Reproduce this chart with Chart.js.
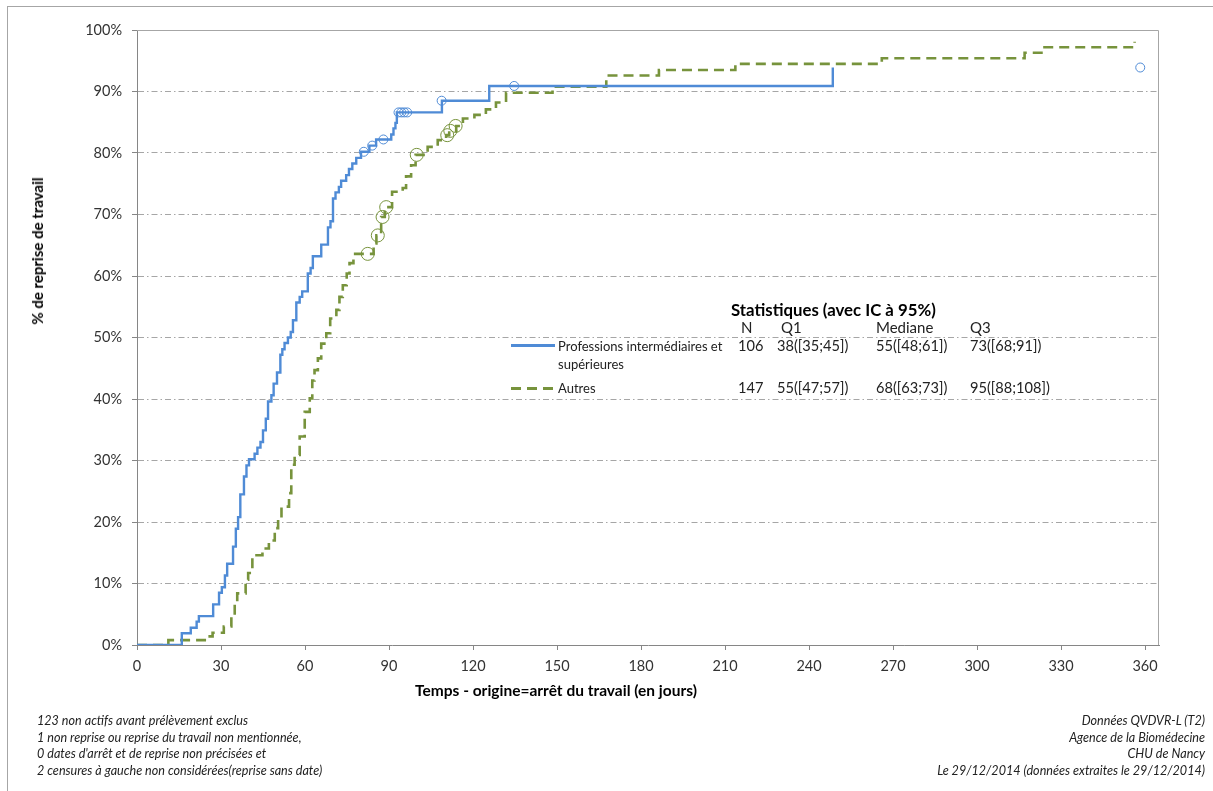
<!DOCTYPE html>
<html lang="fr">
<head>
<meta charset="utf-8">
<title>Reprise du travail</title>
<script src="https://cdn.jsdelivr.net/npm/chart.js@4.4.1/dist/chart.umd.min.js"></script>
<style>
  body { margin: 0; background: #fff; font-family: Lato, "Open Sans", sans-serif; color: #222; }
  #wrap { position: relative; width: 1213px; height: 791px; overflow: hidden; }
  #frame { position: absolute; left: 7px; top: 6px; width: 1300px; height: 900px; border: 1px solid #a6a6a6; }
  canvas { position: absolute; left: 0; top: 0; }
  .t { position: absolute; white-space: nowrap; line-height: 18px; height: 18px; }
  .b { font-weight: bold; }
  .foot { position: absolute; font-style: italic; font-size: 12.6px; line-height: 16.7px; color: #222; white-space: nowrap; }
</style>
</head>
<body>
<div id="wrap">
  <div id="frame"></div>
  <canvas id="km" width="1213" height="791"></canvas>
  <div id="overlay"></div>
</div>
<script>
// Axis ticks
const xTicks = [0, 30, 60, 90, 120, 150, 180, 210, 240, 270, 300, 330, 360];
const yTicks = [0, 10, 20, 30, 40, 50, 60, 70, 80, 90, 100];

// Kaplan-Meier steps: [jours, % de reprise]
const blueSteps = [
  [0, 0], [16, 1.9], [19.2, 2.8], [21.3, 3.8], [22.1, 4.7], [27.2, 6.6], [29.3, 8.5],
  [30.3, 9.4], [31.4, 11.3], [32.2, 13.2], [34.3, 16.0], [35.3, 18.9], [36.1, 20.8],
  [36.9, 24.5], [38.2, 27.4], [39.1, 29.2], [40, 30.2], [42, 31.1], [43, 32.1],
  [44.1, 33.0], [45, 34.9], [46, 36.8], [46.8, 39.6], [48, 40.6], [48.8, 42.5],
  [50, 44.3], [51.2, 47.2], [51.9, 48.1], [52.7, 49.1], [53.9, 50.0], [54.9, 50.9],
  [55.7, 52.8], [56.9, 55.7], [58.1, 56.6], [59, 57.5], [61, 60.4], [62, 61.3],
  [62.8, 63.2], [65.8, 65.1], [68.2, 67.9], [69.1, 68.9], [70, 72.6], [70.9, 73.6],
  [72.1, 74.5], [72.9, 75.5], [74.7, 76.4], [75.7, 77.4], [76.9, 78.3], [78.3, 79.2],
  [80, 80.2], [83, 81.2], [85.4, 82.2], [90.8, 83.0], [91.6, 84.0], [92.3, 84.9],
  [92.8, 86.6], [108.9, 88.5], [125.8, 90.9], [248.5, 93.9]
];
const blueCensored = [
  [81, 80.2], [84, 81.2], [88, 82.2], [93.4, 86.6], [94.4, 86.6], [95.4, 86.6],
  [96.5, 86.6], [108.8, 88.5], [134.7, 90.9], [358.3, 93.9]
];

const greenSteps = [
  [0, 0], [11.2, 0.8], [24.2, 1.4], [27, 2.0], [31, 3.0], [33.7, 4.5], [34.9, 7.0],
  [35.8, 8.4], [38.8, 10.6], [39.7, 11.7], [41.2, 14.3], [42, 14.6], [44.8, 15.7],
  [47.1, 17.0], [49.2, 19.0], [50.4, 20.6], [51.6, 22.5], [54.3, 24.7], [55.1, 29.3],
  [56.3, 30.9], [58.1, 33.9], [59.9, 37.9], [61.7, 40.1], [62.6, 43.0], [63.4, 44.7],
  [64.6, 46.6], [65.8, 49.0], [67.6, 50.7], [69, 53.1], [71.2, 54.5], [72.3, 56.6],
  [73.5, 58.5], [74.9, 60.4], [75.9, 62.1], [77.3, 63.6], [84.5, 65.3], [85.5, 66.6],
  [87.2, 69.6], [88.5, 71.2], [91.1, 73.7], [94.9, 74.3], [96.1, 76.2], [97.9, 78.0],
  [99.5, 79.7], [103.8, 81.0], [107.4, 82.1], [110.4, 82.9], [111.5, 83.6],
  [114, 84.4], [116.4, 85.6], [120.5, 86.2], [124.6, 87.1], [128.2, 88.2],
  [131.8, 89.8], [148.4, 90.8], [167.6, 92.6], [186.4, 93.5], [213.7, 94.5],
  [266, 95.4], [317, 96.3], [324.1, 97.2], [356.3, 98.1]
];
const greenCensored = [
  [82.4, 63.6], [86, 66.6], [87.7, 69.6], [89, 71.2], [99.9, 79.7],
  [110.8, 82.9], [111.9, 83.6], [113.8, 84.4]
];

// Texte des statistiques
const statsTitle = 'Statistiques (avec IC à 95%)';
const statsHeader = ['N', 'Q1', 'Mediane', 'Q3'];
const groupNames = [['Professions intermédiaires et', 'supérieures'], ['Autres']];
const statsRows = [
  ['106', '38([35;45])', '55([48;61])', '73([68;91])'],
  ['147', '55([47;57])', '68([63;73])', '95([88;108])']
];
const footLeft = [
  '123 non actifs avant prélèvement exclus',
  '1 non reprise ou reprise du travail non mentionnée,',
  "0 dates d'arrêt et de reprise non précisées et",
  '2 censures à gauche non considérées(reprise sans date)'
];
const footRight = [
  'Données QVDVR-L (T2)',
  'Agence de la Biomédecine',
  'CHU de Nancy',
  'Le 29/12/2014 (données extraites le 29/12/2014)'
];

const BLUE = '#4f8bd6';
const GREEN = '#77933c';
const AXIS = '#868686';
const toXY = arr => arr.map(p => ({ x: p[0], y: p[1] }));

// plot area frame (top and right edges)
const plotFrame = {
  id: 'plotFrame',
  beforeDatasetsDraw(chart) {
    const { ctx, chartArea: a } = chart;
    ctx.save();
    ctx.strokeStyle = '#a6a6a6';
    ctx.lineWidth = 1;
    ctx.beginPath();
    ctx.moveTo(a.left, a.top + 0.5);
    ctx.lineTo(a.right - 0.5, a.top + 0.5);
    ctx.lineTo(a.right - 0.5, a.bottom);
    ctx.stroke();
    ctx.restore();
  }
};

const tickFont = { family: 'Lato', size: 14.5 };

new Chart(document.getElementById('km'), {
  type: 'line',
  data: {
    datasets: [
      {
        data: toXY(blueSteps), stepped: 'before', borderColor: BLUE, borderWidth: 2.4,
        pointRadius: 0, fill: false
      },
      {
        data: toXY(greenSteps), stepped: 'before', borderColor: GREEN, borderWidth: 2.6,
        borderDash: [10, 6], pointRadius: 0, fill: false
      },
      {
        data: toXY(blueCensored), showLine: false, pointRadius: 4.5, pointBorderWidth: 1,
        pointBorderColor: BLUE, pointBackgroundColor: 'rgba(0,0,0,0)'
      },
      {
        data: toXY(greenCensored), showLine: false, pointRadius: 6.5, pointBorderWidth: 1,
        pointBorderColor: GREEN, pointBackgroundColor: 'rgba(0,0,0,0)'
      }
    ]
  },
  options: {
    responsive: false,
    animation: false,
    layout: { padding: { top: 30, right: 54, bottom: 0, left: 0 } },
    plugins: { legend: { display: false }, tooltip: { enabled: false } },
    scales: {
      x: {
        type: 'linear', min: 0, max: 365,
        afterBuildTicks: s => { s.ticks = xTicks.map(v => ({ value: v })); },
        afterFit: s => { s.height = 146; },
        ticks: { font: tickFont, color: '#333', padding: 8, maxRotation: 0 },
        grid: { drawOnChartArea: false, tickLength: 5, tickColor: AXIS },
        border: { color: AXIS, width: 1 }
      },
      y: {
        min: 0, max: 100,
        afterBuildTicks: s => { s.ticks = yTicks.map(v => ({ value: v })); },
        afterFit: s => { s.width = 137; },
        ticks: { font: tickFont, color: '#333', padding: 10, callback: v => v + '%' },
        grid: { color: '#a6a6a6', lineWidth: 1, tickLength: 5, tickColor: AXIS, tickBorderDash: [] },
        border: { color: AXIS, width: 1, dash: [6, 3, 1.5, 3] }
      }
    }
  },
  plugins: [plotFrame]
});

// overlays: titles, stats legend, footnotes
const ov = document.getElementById('overlay');
const addText = (txt, left, cy, size, cls, extra) => {
  const d = document.createElement('div');
  d.className = 't ' + (cls || '');
  d.textContent = txt;
  d.style.left = left + 'px';
  d.style.top = (cy - 9) + 'px';
  d.style.fontSize = size + 'px';
  if (extra) Object.assign(d.style, extra);
  ov.appendChild(d);
  return d;
};

// axis titles
addText('% de reprise de travail', 37, 251, 15, 'b',
  { transform: 'translate(-50%, 0) rotate(-90deg)', transformOrigin: '50% 50%', color: '#000' });
addText('Temps - origine=arrêt du travail (en jours)', 556, 690, 15.5, 'b',
  { transform: 'translateX(-50%)', color: '#000' });

// stats table
addText(statsTitle, 731, 310, 16.8, 'b', { color: '#000' });
const colX = [741, 781, 876, 970];
const valX = [738, 777, 876, 970];
statsHeader.forEach((h, i) => addText(h, colX[i], 327, 15));
const rowY = [346, 388];
statsRows.forEach((row, r) => row.forEach((v, i) => addText(v, valX[i], rowY[r], 14.6)));
groupNames.forEach((lines, r) => lines.forEach((l, k) => addText(l, 558, rowY[r] + k * 17.5, 13)));

// legend samples
const sample = (cy, bg) => {
  const d = document.createElement('div');
  Object.assign(d.style, { position: 'absolute', left: '511px', top: (cy - 1) + 'px', width: '44px', height: '2.5px', background: bg });
  ov.appendChild(d);
};
sample(345, BLUE);
sample(388, `repeating-linear-gradient(to right, ${GREEN} 0 10px, transparent 10px 16px)`);

// footnotes
const fl = document.createElement('div');
fl.className = 'foot';
Object.assign(fl.style, { left: '37px', top: '713px' });
fl.innerHTML = footLeft.join('<br>');
ov.appendChild(fl);
const fr = document.createElement('div');
fr.className = 'foot';
Object.assign(fr.style, { right: '8px', top: '713px', textAlign: 'right' });
fr.innerHTML = footRight.join('<br>');
ov.appendChild(fr);
</script>
</body>
</html>
